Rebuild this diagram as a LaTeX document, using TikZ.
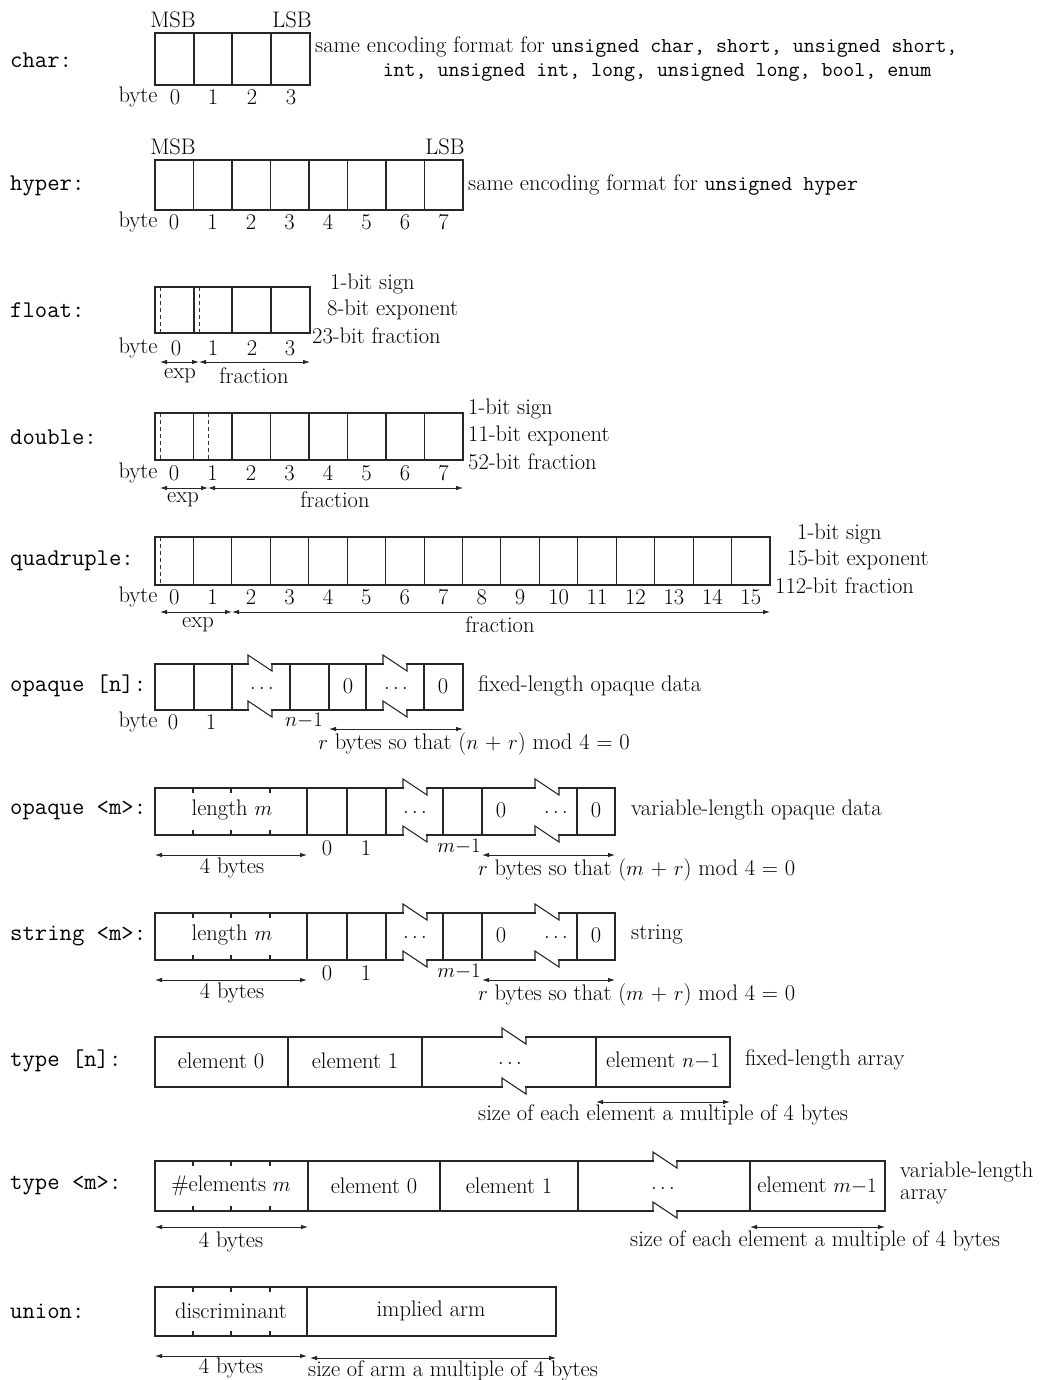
\documentclass[tikz,border=0pt]{standalone}
\usepackage{fontspec}
\usetikzlibrary{arrows.meta}
\newcommand\rf{\fontsize{22.5}{26}\selectfont}
\newcommand\lf{\fontsize{24}{27}\selectfont\ttfamily}
\newcommand\cf{\fontsize{21.3}{25}\selectfont\ttfamily}
\newcommand\mmo{$m{-}1$}
\newcommand\nmo{$n{-}1$}
\begin{document}
\begin{tikzpicture}[x=1pt,y=-1pt,
  box/.style={draw=black!85,line width=1.1pt},
  dsh/.style={draw=black!80,line width=0.9pt,dash pattern=on 4pt off 3pt},
  dim/.style={{Latex[length=7pt,width=4.5pt]}-{Latex[length=7pt,width=4.5pt]},draw=black!85,line width=0.8pt},
  txt/.style={inner sep=0pt,font=\rf,text=black},
  lab/.style={inner sep=0pt,font=\lf,anchor=west,text=black},
  erase/.style={draw=white,line width=3pt}]
\useasboundingbox[fill=white] (0,0) rectangle (1045,1380);
% zigzag break: #1 x, #2 top, #3 bottom
\newcommand\zig[3]{%
  \draw[erase] (#1+0.8,#2) -- (#1+23.2,#2);
  \draw[erase] (#1+0.8,#3) -- (#1+23.2,#3);
  \draw[box,line join=miter] (#1,#2) -- (#1,#2-9) -- (#1+24,#2+7) -- (#1+24,#2);
  \draw[box,line join=miter] (#1,#3) -- (#1,#3-9) -- (#1+24,#3+7) -- (#1+24,#3);}
\newcommand\ticks[2]{%
  \foreach \x in {193,231,270} {\draw[box] (\x,#1) -- (\x,#1+5); \draw[box] (\x,#2) -- (\x,#2-5);}}

% ---------------- char
\node[lab] (lchar) at (10,60) {char:};
\draw[box] (155,33) rectangle (310,85);
\foreach \x in {194,232,271} \draw[box] (\x,33) -- (\x,85);
\node[txt] (msb1) at (173,20) {MSB};
\node[txt] (lsb1) at (292,20) {LSB};
\node[txt] (by1) at (138,97) {byte};
\foreach \i/\x in {0/175,1/213,2/252,3/291} \node[txt] (c\i) at (\x,97) {\i};
\node[txt,anchor=west] (t1a) at (315,47) {same encoding format for {\cf unsigned char, short, unsigned short,}};
\node[txt] (t1b) at (657,72) {\cf int, unsigned int, long, unsigned long, bool, enum};

% ---------------- hyper
\node[lab] (lhyper) at (10,186) {hyper:};
\draw[box] (155,160) rectangle (463,210);
\foreach \k in {1,...,7} \draw[box] (155+38.5*\k,160) -- (155+38.5*\k,210);
\node[txt] (msb2) at (173,147) {MSB};
\node[txt] (lsb2) at (445,147) {LSB};
\node[txt] (by2) at (138,222) {byte};
\foreach \k in {0,...,7} \node[txt] (h\k) at (174+38.5*\k,222) {\k};
\node[txt,anchor=west] (t2) at (468,185) {same encoding format for {\cf unsigned hyper}};

% ---------------- float
\node[lab] (lfloat) at (10,310) {float:};
\draw[box] (155,287) rectangle (310,333);
\foreach \x in {194,232,271} \draw[box] (\x,287) -- (\x,333);
\draw[dsh] (160,287) -- (160,333);
\draw[dsh] (199,287) -- (199,333);
\node[txt,anchor=west] (f1) at (330,284) {1-bit sign};
\node[txt,anchor=west] (f2) at (327,310) {8-bit exponent};
\node[txt,anchor=west] (f3) at (312,336) {23-bit fraction};
\node[txt] (by3) at (138,348) {byte};
\foreach \i/\x in {0/176,1/213,2/252,3/290} \node[txt] (fl\i) at (\x,348) {\i};
\coordinate (fa) at (160,362); \coordinate (fb) at (199,362); \coordinate (fc) at (310,362);
\draw[dim] (fa) -- (fb);
\draw[dim] (fb) -- (fc);
\node[txt] (fexp) at (180,376) {exp};
\node[txt] (ffr) at (254,376) {fraction};

% ---------------- double
\node[lab] (ldouble) at (10,437) {double:};
\draw[box] (155,413) rectangle (463,460);
\foreach \k in {1,...,7} \draw[box] (155+38.5*\k,413) -- (155+38.5*\k,460);
\draw[dsh] (160,413) -- (160,460);
\draw[dsh] (208,413) -- (208,460);
\node[txt,anchor=west] (d1) at (468,409) {1-bit sign};
\node[txt,anchor=west] (d2) at (468,436) {11-bit exponent};
\node[txt,anchor=west] (d3) at (468,462) {52-bit fraction};
\node[txt] (by4) at (138,473) {byte};
\foreach \k in {0,...,7} \node[txt] (db\k) at (174+38.5*\k,473) {\k};
\coordinate (da) at (160,488); \coordinate (db) at (208,488); \coordinate (dc) at (463,488);
\draw[dim] (da) -- (db);
\draw[dim] (db) -- (dc);
\node[txt] (dexp) at (183,500) {exp};
\node[txt] (dfr) at (335,500) {fraction};

% ---------------- quadruple
\node[lab] (lquad) at (10,561) {quadruple:};
\draw[box] (155,537) rectangle (770,585);
\foreach \k in {1,...,15} \draw[box] (155+38.4375*\k,537) -- (155+38.4375*\k,585);
\draw[dsh] (160,537) -- (160,585);
\node[txt,anchor=west] (q1) at (797,534) {1-bit sign};
\node[txt,anchor=west] (q2) at (787,560) {15-bit exponent};
\node[txt,anchor=west] (q3) at (775,586) {112-bit fraction};
\node[txt] (by5) at (138,597) {byte};
\foreach \k in {0,...,15} \node[txt] (qb\k) at (174.2+38.4375*\k,597) {\k};
\coordinate (qa) at (160,612); \coordinate (qb) at (232,612); \coordinate (qc) at (770,612);
\draw[dim] (qa) -- (qb);
\draw[dim] (qb) -- (qc);
\node[txt] (qexp) at (198,625) {exp};
\node[txt] (qfr) at (500,625) {fraction};

% ---------------- opaque [n]
\node[lab] (lopn) at (10,686) {opaque [n]:};
\draw[box] (155,664) rectangle (463,710);
\foreach \x in {194,232,290,329,366,424} \draw[box] (\x,664) -- (\x,710);
\zig{248}{664}{710}
\zig{383}{664}{710}
\node[txt] (on1) at (262,688) {$\dots$};
\node[txt] (on2) at (348,686) {0};
\node[txt] (on3) at (396,688) {$\dots$};
\node[txt] (on4) at (443,686) {0};
\node[txt,anchor=west] (ont) at (478,686) {fixed-length opaque data};
\node[txt] (by6) at (138,722) {byte};
\node[txt] (onb0) at (173,722) {0};
\node[txt] (onb1) at (211,722) {1};
\node[txt] (onb2) at (304,721) {\nmo};
\coordinate (ona) at (329,729); \coordinate (onb) at (463,729);
\draw[dim] (ona) -- (onb);
\node[txt] (onr) at (474,744) {$r$ bytes so that ($n$ + $r$) mod 4 = 0};

% ---------------- opaque <m>
\node[lab] (lopm) at (10,811) {opaque <m>:};
\draw[box] (155,788) rectangle (615,835);
\foreach \x in {307,347,386,443,482,577} \draw[box] (\x,788) -- (\x,835);
\ticks{788}{835}
\zig{403}{788}{835}
\zig{535}{788}{835}
\node[txt] (om1) at (232,810) {length $m$};
\node[txt] (om2) at (415,812) {$\dots$};
\node[txt] (om3) at (501,810) {0};
\node[txt] (om4) at (556,812) {$\dots$};
\node[txt] (om5) at (596,810) {0};
\node[txt,anchor=west] (omt) at (631,810) {variable-length opaque data};
\node[txt] (omb0) at (327,848) {0};
\node[txt] (omb1) at (366,848) {1};
\node[txt] (omb2) at (459,847) {\mmo};
\coordinate (oma) at (155,855); \coordinate (omb) at (307,855);
\coordinate (omc) at (482,855); \coordinate (omd) at (615,855);
\draw[dim] (oma) -- (omb);
\draw[dim] (omc) -- (omd);
\node[txt] (om4b) at (232,868) {4 bytes};
\node[txt,anchor=west] (omr) at (478,870) {$r$ bytes so that ($m$ + $r$) mod 4 = 0};

% ---------------- string <m>
\node[lab] (lstr) at (10,936) {string <m>:};
\draw[box] (155,913) rectangle (615,960);
\foreach \x in {307,347,386,443,482,577} \draw[box] (\x,913) -- (\x,960);
\ticks{913}{960}
\zig{403}{913}{960}
\zig{535}{913}{960}
\node[txt] (sm1) at (232,935) {length $m$};
\node[txt] (sm2) at (415,937) {$\dots$};
\node[txt] (sm3) at (501,935) {0};
\node[txt] (sm4) at (556,937) {$\dots$};
\node[txt] (sm5) at (596,935) {0};
\node[txt,anchor=west] (smt) at (631,935) {string};
\node[txt] (smb0) at (327,973) {0};
\node[txt] (smb1) at (366,973) {1};
\node[txt] (smb2) at (459,972) {\mmo};
\coordinate (sa) at (155,980); \coordinate (sb) at (307,980);
\coordinate (sc) at (482,980); \coordinate (sd) at (615,980);
\draw[dim] (sa) -- (sb);
\draw[dim] (sc) -- (sd);
\node[txt] (s4b) at (232,993) {4 bytes};
\node[txt,anchor=west] (sr) at (478,995) {$r$ bytes so that ($m$ + $r$) mod 4 = 0};

% ---------------- type [n]
\node[lab] (ltn) at (10,1061) {type [n]:};
\draw[box] (155,1037) rectangle (730,1087);
\foreach \x in {288,422,596} \draw[box] (\x,1037) -- (\x,1087);
\zig{502}{1037}{1087}
\node[txt] (tn1) at (221,1061) {element 0};
\node[txt] (tn2) at (355,1061) {element 1};
\node[txt] (tn3) at (510,1063) {$\dots$};
\node[txt] (tn4) at (663,1061) {element \nmo};
\node[txt,anchor=west] (tnt) at (745,1060) {fixed-length array};
\coordinate (tna) at (596,1102); \coordinate (tnb) at (730,1102);
\draw[dim] (tna) -- (tnb);
\node[txt] (tns) at (663,1115) {size of each element a multiple of 4 bytes};

% ---------------- type <m>
\node[lab] (ltm) at (10,1186) {type <m>:};
\draw[box] (155,1161) rectangle (885,1211);
\foreach \x in {308,440,578,750} \draw[box] (\x,1161) -- (\x,1211);
\ticks{1161}{1211}
\zig{653}{1161}{1211}
\node[txt] (tm0) at (231,1186) {\#elements $m$};
\node[txt] (tm1) at (374,1186) {element 0};
\node[txt] (tm2) at (509,1186) {element 1};
\node[txt] (tm3) at (663,1188) {$\dots$};
\node[txt] (tm4) at (817,1186) {element \mmo};
\node[txt,anchor=west] (tmt1) at (900,1172) {variable-length};
\node[txt,anchor=west] (tmt2) at (900,1197) {array};
\coordinate (tma) at (155,1227); \coordinate (tmb) at (308,1227);
\coordinate (tmc) at (750,1227); \coordinate (tmd) at (885,1227);
\draw[dim] (tma) -- (tmb);
\draw[dim] (tmc) -- (tmd);
\node[txt] (tm4b) at (231,1242) {4 bytes};
\node[txt] (tms) at (815,1241) {size of each element a multiple of 4 bytes};

% ---------------- union
\node[lab] (lun) at (10,1311) {union:};
\draw[box] (155,1287) rectangle (556,1336);
\draw[box] (307,1287) -- (307,1336);
\ticks{1287}{1336}
\node[txt] (un1) at (231,1311) {discriminant};
\node[txt] (un2) at (431,1311) {implied arm};
\coordinate (ua) at (155,1356); \coordinate (ub) at (307,1356);
\coordinate (uc) at (310,1358); \coordinate (ud) at (556,1358);
\draw[dim] (ua) -- (ub);
\draw[dim] (uc) -- (ud);
\node[txt] (u4b) at (231,1368) {4 bytes};
\node[txt,anchor=west] (us) at (308,1371) {size of arm a multiple of 4 bytes};
\end{tikzpicture}
\end{document}
